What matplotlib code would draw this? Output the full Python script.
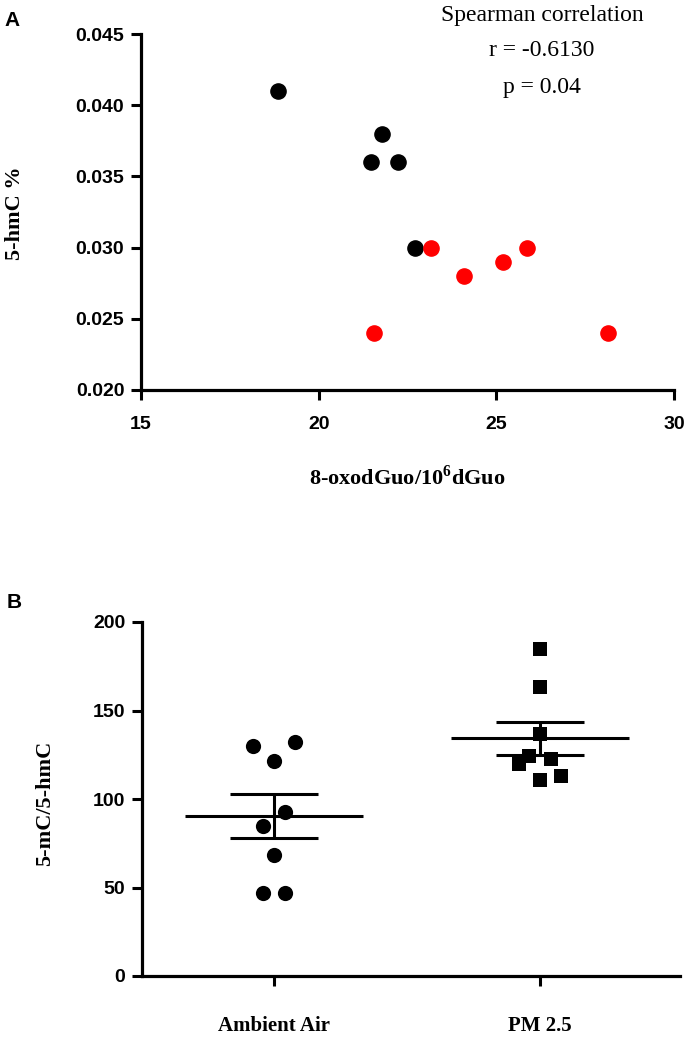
import numpy as np
import matplotlib.pyplot as plt

# ---------------------------------------------------------------------------
# Data
# ---------------------------------------------------------------------------
# Panel A: 8-oxodGuo vs 5-hmC %
black_x = [18.86, 21.79, 21.47, 22.23, 22.70]
black_y = [0.041, 0.038, 0.036, 0.036, 0.030]
red_x = [23.15, 24.08, 25.19, 25.87, 21.56, 28.15]
red_y = [0.030, 0.028, 0.029, 0.030, 0.024, 0.024]
stats_lines = ['Spearman correlation', 'r = -0.6130', 'p = 0.04']

# Panel B: 5-mC/5-hmC per group (slot = column used in the dot plot)
groups = ['Ambient Air', 'PM 2.5']
ambient = [129.7, 132.3, 121.7, 92.5, 84.5, 68.5, 46.8, 46.8]
ambient_slot = [-2, 2, 0, 1, -1, 0, -1, 1]
pm25 = [185.0, 163.5, 136.5, 124.2, 122.7, 119.7, 112.9, 110.6]
pm25_slot = [0, 0, 0, -1, 1, -2, 2, 0]

W, H = 685, 1041
SANS = 'Liberation Sans'
SERIF = 'Liberation Serif'
plt.rcParams['mathtext.fontset'] = 'custom'
plt.rcParams['mathtext.rm'] = 'Liberation Serif:bold'
plt.rcParams['mathtext.bf'] = 'Liberation Serif:bold'

fig = plt.figure(figsize=(W / 100, H / 100), dpi=100)


def style_axes(ax, xpad, ypad):
    for s in ['top', 'right']:
        ax.spines[s].set_visible(False)
    for s in ['left', 'bottom']:
        ax.spines[s].set_linewidth(2.3)
    ax.tick_params(axis='both', width=2.2, length=7, direction='out')
    ax.tick_params(axis='x', pad=xpad)
    ax.tick_params(axis='y', pad=ypad)


# ------------------------------ Panel A ------------------------------------
ax1 = fig.add_axes([141 / W, 1 - 390 / H, (674 - 141) / W, (390 - 34) / H])
ax1.scatter(black_x, black_y, s=120, color='black', zorder=3, clip_on=False)
ax1.scatter(red_x, red_y, s=120, color='#ff0000', zorder=3, clip_on=False)
ax1.set_xlim(15, 30)
ax1.set_ylim(0.020, 0.045)
ax1.set_xticks([15, 20, 25, 30])
ax1.set_yticks(np.arange(0.020, 0.0451, 0.005))
ax1.set_yticklabels(['%.3f' % v for v in np.arange(0.020, 0.0451, 0.005)])
style_axes(ax1, xpad=12, ypad=5)
for lab in ax1.get_xticklabels() + ax1.get_yticklabels():
    lab.set_fontfamily(SANS)
    lab.set_fontweight('bold')
    lab.set_fontsize(14)

for i, line in enumerate(stats_lines):
    fig.text(542 / W, 1 - (15 + i * 36) / H, line, ha='center', va='center',
             family=SERIF, fontsize=17)

fig.text(15 / W, 1 - 213 / H, '5-hmC %', rotation=90, ha='center',
         va='center', family=SERIF, fontweight='bold', fontsize=16)
fig.text(407 / W, 1 - 478 / H, r'8-oxodGuo/10$^{6}$dGuo', ha='center',
         va='center', family=SERIF, fontweight='bold', fontsize=16)
fig.text(12 / W, 1 - 21 / H, 'A', ha='center', va='center', family=SANS,
         fontweight='bold', fontsize=15)

# ------------------------------ Panel B ------------------------------------
ax2 = fig.add_axes([142 / W, 1 - 976 / H, (680 - 142) / W, (976 - 622) / H])
step = 0.04
for i, (vals, slots, mk) in enumerate([(ambient, ambient_slot, 'o'),
                                       (pm25, pm25_slot, 's')]):
    vals = np.array(vals)
    xs = i + np.array(slots) * step
    ax2.scatter(xs, vals, s=120 if mk == 'o' else 105, marker=mk,
                color='black', zorder=3, clip_on=False, linewidths=0)
    mean = vals.mean()
    sem = vals.std(ddof=1) / np.sqrt(len(vals))
    ax2.hlines(mean, i - 0.333, i + 0.333, color='black', lw=2.2, zorder=4)
    ax2.vlines(i, mean - sem, mean + sem, color='black', lw=2.2, zorder=4)
    ax2.hlines([mean - sem, mean + sem], i - 0.166, i + 0.166,
               color='black', lw=2.2, zorder=4)

ax2.set_xlim(-0.496, 1.526)
ax2.set_ylim(0, 200)
ax2.set_yticks([0, 50, 100, 150, 200])
ax2.set_xticks([0, 1])
ax2.set_xticklabels(groups)
style_axes(ax2, xpad=22, ypad=5)
for lab in ax2.get_yticklabels():
    lab.set_fontfamily(SANS)
    lab.set_fontweight('bold')
    lab.set_fontsize(14)
for lab in ax2.get_xticklabels():
    lab.set_fontfamily(SERIF)
    lab.set_fontweight('bold')
    lab.set_fontsize(15)

fig.text(45 / W, 1 - 803 / H, '5-mC/5-hmC', rotation=90, ha='center',
         va='center', family=SERIF, fontweight='bold', fontsize=16)
fig.text(14 / W, 1 - 602 / H, 'B', ha='center', va='center', family=SANS,
         fontweight='bold', fontsize=15)

fig.savefig('out.png', dpi=100)
